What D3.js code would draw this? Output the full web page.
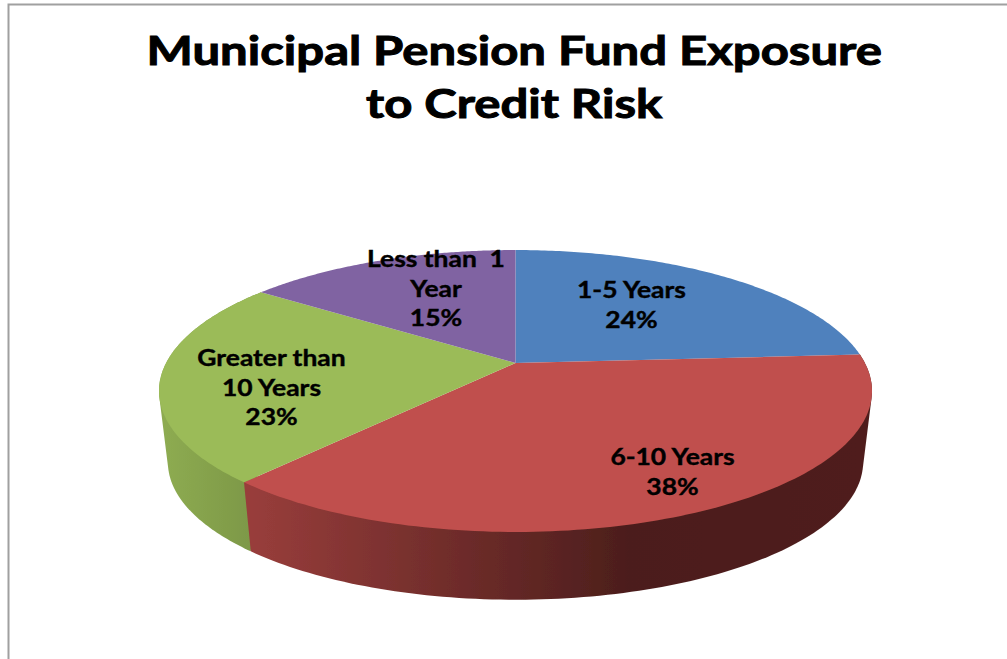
<!DOCTYPE html>
<html><head><meta charset="utf-8">
<style>html,body{margin:0;padding:0;background:#fff;overflow:hidden}svg{display:block}</style>
<script src="https://cdn.jsdelivr.net/npm/d3@7/dist/d3.min.js"></script>
</head><body>
<svg id="c" width="1007" height="659"></svg>
<script>
const titleLines = ["Municipal Pension Fund Exposure", "to Credit Risk"];
const categories = ["1-5 Years", "6-10 Years", "Greater than 10 Years", "Less than 1 Year"];
const values = [24, 37.5, 23.4, 15.1];
const shownPercents = ["24%", "38%", "23%", "15%"];
const labelLines = [["1-5 Years"], ["6-10 Years"], ["Greater than", "10 Years"], ["Less than  1", "Year"]];
const topColors = ["#4f81bd", "#c0504d", "#9bbb59", "#8064a2"];
const sideStops = [[], [["0", "#983d3b"], ["0.62", "#4c1e1c"], ["1", "#4f1f1d"]], [["0", "#8dab51"], ["1", "#7d9847"]], []];

const W = 1007, H = 659;
const svg = d3.select("#c");

// Perspective of the disc: unit-disc coordinates to screen
const apex = {x: 515.5, y: 363};
const D = 349.4, K = 135.4, C = -0.1986;
function proj(a, r, s, dy) {
  const ux = r * Math.sin(a), uy = -r * Math.cos(a), w = 1 + C * uy;
  return [apex.x + s * D * ux / w, apex.y + dy + s * K * uy / w];
}
const sideScale = 0.975, sideDrop = 72;

const arcs = d3.pie().value(d => d).sort(null)(values);
const line = d3.line().curve(d3.curveLinear);
const stepsOf = (a0, a1) => d3.range(0, 121).map(i => a0 + (a1 - a0) * i / 120);

// soft edge, as in the enlarged original
const defs = svg.append("defs");
defs.append("filter").attr("id", "soft").append("feGaussianBlur").attr("stdDeviation", 0.6);

// frame
svg.append("path").attr("d", line([[8.5, H], [8.5, 4.5], [W, 4.5]]))
  .attr("fill", "none").attr("stroke", "#a0a0a0").attr("stroke-width", 2);

// side gradients
const gx = [[0,0],[252,860],[165,252],[0,0]];
sideStops.forEach((st, i) => {
  if (!st.length) return;
  const g = defs.append("linearGradient").attr("id", "side" + i).attr("gradientUnits", "userSpaceOnUse")
    .attr("x1", gx[i][0]).attr("x2", gx[i][1]).attr("y1", 0).attr("y2", 0);
  st.forEach(s => g.append("stop").attr("offset", s[0]).attr("stop-color", s[1]));
});

const pieG = svg.append("g").attr("filter", "url(#soft)");

// sides: hull of rim and lower rim; green first, red over it
[2, 1].forEach(i => {
  const d = arcs[i];
  const as = stepsOf(d.startAngle, d.endAngle);
  const pts = as.map(a => proj(a, 1, 1, 0)).concat(as.map(a => proj(a, 1, sideScale, sideDrop)));
  pieG.append("path").attr("d", line(d3.polygonHull(pts)) + "Z").attr("fill", "url(#side" + i + ")");
});

// top faces
arcs.forEach((d, i) => {
  const pts = [proj(0, 0, 1, 0)].concat(stepsOf(d.startAngle, d.endAngle).map(a => proj(a, 1, 1, 0)));
  pieG.append("path").attr("d", line(pts) + "Z").attr("fill", topColors[i]);
});

// The original's type is stretched sideways; keep real text and widen it
function widen(sel, factor) {
  sel.each(function() {
    const n = this.getComputedTextLength();
    d3.select(this).attr("textLength", n * factor).attr("lengthAdjust", "spacingAndGlyphs");
  });
}

// title
const titleY = [65, 118];
const title = svg.append("g").attr("font-family", "Lato, 'Open Sans', sans-serif").attr("font-weight", 700)
  .attr("font-size", 40).attr("fill", "#000").attr("stroke", "#000").attr("stroke-width", 1)
  .attr("text-anchor", "middle");
titleLines.forEach((t, i) => title.append("text").attr("x", 514.2).attr("y", titleY[i]).text(t));
widen(title.selectAll("text"), 1.226);

// labels
const labelPos = [[631.5, 298], [672.5, 465], [271.5, 366], [436, 267]];
const lineH = 29;
const lab = svg.append("g").attr("font-family", "Lato, 'Open Sans', sans-serif").attr("font-weight", 700)
  .attr("font-size", 22).attr("fill", "#000").attr("stroke", "#000").attr("stroke-width", 0.4)
  .attr("text-anchor", "middle");
categories.forEach((c, i) => {
  const rows = labelLines[i].concat([shownPercents[i]]);
  rows.forEach((r, j) => lab.append("text").attr("x", labelPos[i][0]).attr("y", labelPos[i][1] + j * lineH + (j ? 0.5 : 0))
    .attr("xml:space", "preserve").style("white-space", "pre").text(r));
});
widen(lab.selectAll("text"), 1.2);
</script>
</body></html>
